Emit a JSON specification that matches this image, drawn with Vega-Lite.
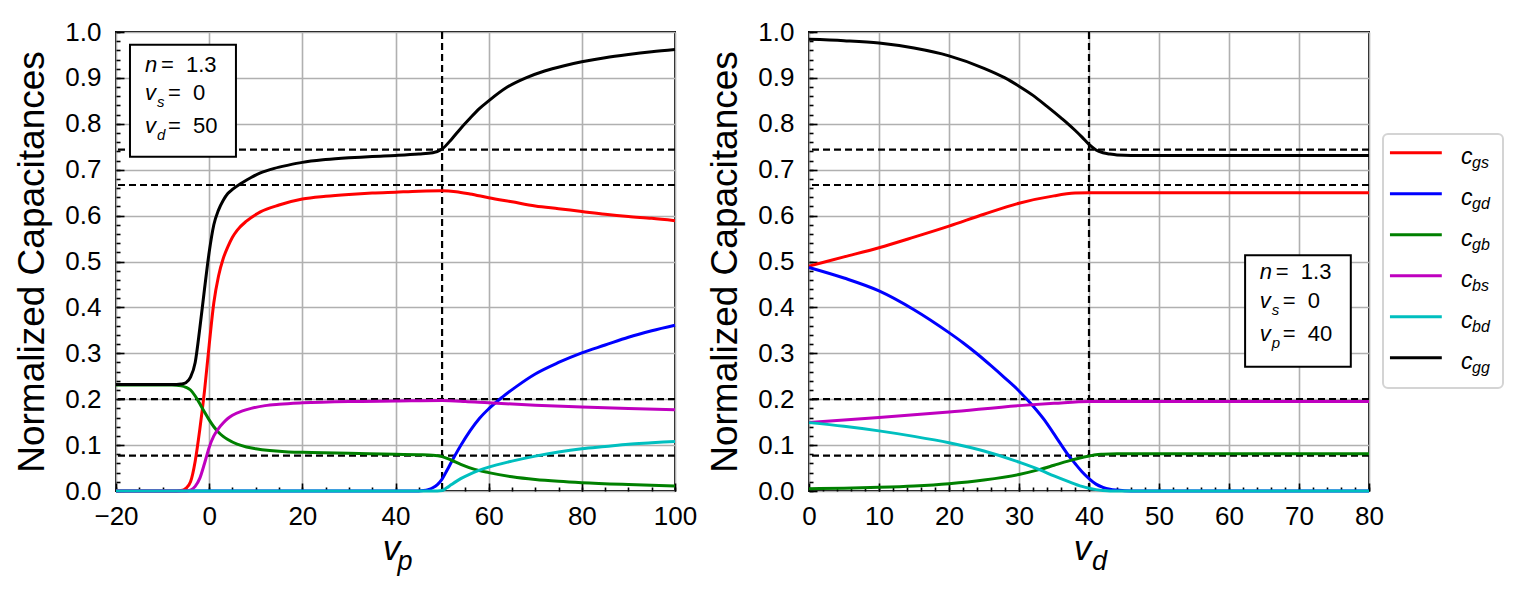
{
  "$schema": "https://vega.github.io/schema/vega-lite/v6.json",
  "padding": {"left": 12, "top": 18, "right": 5, "bottom": 5},
  "config": {
    "font": "Liberation Sans",
    "view": {"stroke": "black", "strokeWidth": 2},
    "axis": {
      "labelFont": "Liberation Sans",
      "titleFont": "Liberation Sans",
      "labelFontSize": 26,
      "labelColor": "black",
      "titleColor": "black",
      "titleFontWeight": "normal",
      "tickColor": "black",
      "tickWidth": 1.6,
      "gridColor": "#b0b0b0",
      "gridWidth": 1.6,
      "gridOpacity": 1,
      "domain": false,
      "labelFlush": false,
      "labelOverlap": false
    },
    "text": {"color": "black"}
  },
  "datasets": {
    "curves": [
      {"p":"L","s":"gs","v":-20,"c":0},{"p":"L","s":"gs","v":-7,"c":0},{"p":"L","s":"gs","v":-6,"c":0.001},{"p":"L","s":"gs","v":-5,"c":0.006},{"p":"L","s":"gs","v":-4,"c":0.02},{"p":"L","s":"gs","v":-3,"c":0.065},{"p":"L","s":"gs","v":-2,"c":0.135},{"p":"L","s":"gs","v":-1,"c":0.218},{"p":"L","s":"gs","v":0,"c":0.318},{"p":"L","s":"gs","v":1,"c":0.41},{"p":"L","s":"gs","v":2,"c":0.468},{"p":"L","s":"gs","v":3,"c":0.506},{"p":"L","s":"gs","v":4,"c":0.532},{"p":"L","s":"gs","v":5,"c":0.553},{"p":"L","s":"gs","v":6,"c":0.568},{"p":"L","s":"gs","v":8,"c":0.588},{"p":"L","s":"gs","v":11,"c":0.608},{"p":"L","s":"gs","v":15,"c":0.623},{"p":"L","s":"gs","v":20,"c":0.636},{"p":"L","s":"gs","v":25,"c":0.642},{"p":"L","s":"gs","v":30,"c":0.646},{"p":"L","s":"gs","v":35,"c":0.649},{"p":"L","s":"gs","v":40,"c":0.651},{"p":"L","s":"gs","v":45,"c":0.653},{"p":"L","s":"gs","v":50,"c":0.654},{"p":"L","s":"gs","v":53,"c":0.652},{"p":"L","s":"gs","v":56,"c":0.647},{"p":"L","s":"gs","v":60,"c":0.639},{"p":"L","s":"gs","v":65,"c":0.63},{"p":"L","s":"gs","v":70,"c":0.621},{"p":"L","s":"gs","v":75,"c":0.615},{"p":"L","s":"gs","v":80,"c":0.609},{"p":"L","s":"gs","v":85,"c":0.603},{"p":"L","s":"gs","v":90,"c":0.598},{"p":"L","s":"gs","v":95,"c":0.594},{"p":"L","s":"gs","v":100,"c":0.589},
      {"p":"L","s":"gd","v":-20,"c":0},{"p":"L","s":"gd","v":45,"c":0},{"p":"L","s":"gd","v":46,"c":0.001},{"p":"L","s":"gd","v":47,"c":0.003},{"p":"L","s":"gd","v":48,"c":0.007},{"p":"L","s":"gd","v":49,"c":0.014},{"p":"L","s":"gd","v":50,"c":0.026},{"p":"L","s":"gd","v":51,"c":0.044},{"p":"L","s":"gd","v":52,"c":0.063},{"p":"L","s":"gd","v":54,"c":0.099},{"p":"L","s":"gd","v":56,"c":0.131},{"p":"L","s":"gd","v":58,"c":0.158},{"p":"L","s":"gd","v":60,"c":0.179},{"p":"L","s":"gd","v":63,"c":0.205},{"p":"L","s":"gd","v":66,"c":0.228},{"p":"L","s":"gd","v":70,"c":0.255},{"p":"L","s":"gd","v":75,"c":0.28},{"p":"L","s":"gd","v":80,"c":0.301},{"p":"L","s":"gd","v":85,"c":0.318},{"p":"L","s":"gd","v":90,"c":0.335},{"p":"L","s":"gd","v":95,"c":0.349},{"p":"L","s":"gd","v":100,"c":0.361},
      {"p":"L","s":"gb","v":-20,"c":0.231},{"p":"L","s":"gb","v":-8,"c":0.231},{"p":"L","s":"gb","v":-6,"c":0.229},{"p":"L","s":"gb","v":-5,"c":0.226},{"p":"L","s":"gb","v":-4,"c":0.22},{"p":"L","s":"gb","v":-3,"c":0.207},{"p":"L","s":"gb","v":-2,"c":0.19},{"p":"L","s":"gb","v":-1,"c":0.172},{"p":"L","s":"gb","v":0,"c":0.155},{"p":"L","s":"gb","v":1,"c":0.14},{"p":"L","s":"gb","v":2,"c":0.128},{"p":"L","s":"gb","v":3,"c":0.119},{"p":"L","s":"gb","v":4,"c":0.112},{"p":"L","s":"gb","v":6,"c":0.102},{"p":"L","s":"gb","v":8,"c":0.096},{"p":"L","s":"gb","v":10,"c":0.092},{"p":"L","s":"gb","v":13,"c":0.088},{"p":"L","s":"gb","v":17,"c":0.085},{"p":"L","s":"gb","v":22,"c":0.084},{"p":"L","s":"gb","v":30,"c":0.082},{"p":"L","s":"gb","v":40,"c":0.08},{"p":"L","s":"gb","v":45,"c":0.079},{"p":"L","s":"gb","v":48,"c":0.078},{"p":"L","s":"gb","v":50,"c":0.075},{"p":"L","s":"gb","v":52,"c":0.067},{"p":"L","s":"gb","v":54,"c":0.058},{"p":"L","s":"gb","v":57,"c":0.047},{"p":"L","s":"gb","v":60,"c":0.04},{"p":"L","s":"gb","v":65,"c":0.031},{"p":"L","s":"gb","v":70,"c":0.025},{"p":"L","s":"gb","v":75,"c":0.021},{"p":"L","s":"gb","v":80,"c":0.018},{"p":"L","s":"gb","v":90,"c":0.014},{"p":"L","s":"gb","v":100,"c":0.011},
      {"p":"L","s":"bs","v":-20,"c":0},{"p":"L","s":"bs","v":-5,"c":0},{"p":"L","s":"bs","v":-4,"c":0.002},{"p":"L","s":"bs","v":-3,"c":0.01},{"p":"L","s":"bs","v":-2,"c":0.028},{"p":"L","s":"bs","v":-1,"c":0.06},{"p":"L","s":"bs","v":0,"c":0.095},{"p":"L","s":"bs","v":1,"c":0.12},{"p":"L","s":"bs","v":2,"c":0.136},{"p":"L","s":"bs","v":3,"c":0.148},{"p":"L","s":"bs","v":4,"c":0.158},{"p":"L","s":"bs","v":5,"c":0.165},{"p":"L","s":"bs","v":7,"c":0.174},{"p":"L","s":"bs","v":9,"c":0.18},{"p":"L","s":"bs","v":12,"c":0.186},{"p":"L","s":"bs","v":15,"c":0.189},{"p":"L","s":"bs","v":20,"c":0.192},{"p":"L","s":"bs","v":30,"c":0.195},{"p":"L","s":"bs","v":40,"c":0.196},{"p":"L","s":"bs","v":50,"c":0.197},{"p":"L","s":"bs","v":55,"c":0.195},{"p":"L","s":"bs","v":60,"c":0.192},{"p":"L","s":"bs","v":70,"c":0.187},{"p":"L","s":"bs","v":80,"c":0.183},{"p":"L","s":"bs","v":90,"c":0.18},{"p":"L","s":"bs","v":100,"c":0.177},
      {"p":"L","s":"bd","v":-20,"c":0},{"p":"L","s":"bd","v":49,"c":0},{"p":"L","s":"bd","v":50,"c":0.001},{"p":"L","s":"bd","v":51,"c":0.007},{"p":"L","s":"bd","v":52,"c":0.014},{"p":"L","s":"bd","v":54,"c":0.027},{"p":"L","s":"bd","v":56,"c":0.037},{"p":"L","s":"bd","v":60,"c":0.052},{"p":"L","s":"bd","v":65,"c":0.065},{"p":"L","s":"bd","v":70,"c":0.076},{"p":"L","s":"bd","v":75,"c":0.085},{"p":"L","s":"bd","v":80,"c":0.092},{"p":"L","s":"bd","v":85,"c":0.097},{"p":"L","s":"bd","v":90,"c":0.102},{"p":"L","s":"bd","v":95,"c":0.105},{"p":"L","s":"bd","v":100,"c":0.108},
      {"p":"L","s":"gg","v":-20,"c":0.232},{"p":"L","s":"gg","v":-7,"c":0.232},{"p":"L","s":"gg","v":-6,"c":0.233},{"p":"L","s":"gg","v":-5,"c":0.236},{"p":"L","s":"gg","v":-4,"c":0.248},{"p":"L","s":"gg","v":-3,"c":0.28},{"p":"L","s":"gg","v":-2,"c":0.355},{"p":"L","s":"gg","v":-1,"c":0.44},{"p":"L","s":"gg","v":0,"c":0.52},{"p":"L","s":"gg","v":1,"c":0.58},{"p":"L","s":"gg","v":2,"c":0.612},{"p":"L","s":"gg","v":3,"c":0.633},{"p":"L","s":"gg","v":4,"c":0.648},{"p":"L","s":"gg","v":5,"c":0.657},{"p":"L","s":"gg","v":7,"c":0.671},{"p":"L","s":"gg","v":9,"c":0.683},{"p":"L","s":"gg","v":11,"c":0.693},{"p":"L","s":"gg","v":14,"c":0.703},{"p":"L","s":"gg","v":17,"c":0.71},{"p":"L","s":"gg","v":20,"c":0.716},{"p":"L","s":"gg","v":25,"c":0.722},{"p":"L","s":"gg","v":30,"c":0.726},{"p":"L","s":"gg","v":35,"c":0.729},{"p":"L","s":"gg","v":40,"c":0.731},{"p":"L","s":"gg","v":45,"c":0.734},{"p":"L","s":"gg","v":48,"c":0.737},{"p":"L","s":"gg","v":50,"c":0.745},{"p":"L","s":"gg","v":52,"c":0.766},{"p":"L","s":"gg","v":54,"c":0.79},{"p":"L","s":"gg","v":56,"c":0.812},{"p":"L","s":"gg","v":58,"c":0.833},{"p":"L","s":"gg","v":60,"c":0.85},{"p":"L","s":"gg","v":64,"c":0.88},{"p":"L","s":"gg","v":68,"c":0.9},{"p":"L","s":"gg","v":72,"c":0.915},{"p":"L","s":"gg","v":76,"c":0.926},{"p":"L","s":"gg","v":80,"c":0.935},{"p":"L","s":"gg","v":85,"c":0.944},{"p":"L","s":"gg","v":90,"c":0.951},{"p":"L","s":"gg","v":95,"c":0.957},{"p":"L","s":"gg","v":100,"c":0.962},
      {"p":"R","s":"gs","v":0,"c":0.49},{"p":"R","s":"gs","v":5,"c":0.51},{"p":"R","s":"gs","v":10,"c":0.53},{"p":"R","s":"gs","v":15,"c":0.553},{"p":"R","s":"gs","v":20,"c":0.577},{"p":"R","s":"gs","v":25,"c":0.603},{"p":"R","s":"gs","v":30,"c":0.627},{"p":"R","s":"gs","v":35,"c":0.643},{"p":"R","s":"gs","v":38,"c":0.649},{"p":"R","s":"gs","v":40,"c":0.65},{"p":"R","s":"gs","v":45,"c":0.65},{"p":"R","s":"gs","v":80,"c":0.65},
      {"p":"R","s":"gd","v":0,"c":0.487},{"p":"R","s":"gd","v":5,"c":0.464},{"p":"R","s":"gd","v":10,"c":0.436},{"p":"R","s":"gd","v":15,"c":0.395},{"p":"R","s":"gd","v":20,"c":0.345},{"p":"R","s":"gd","v":22,"c":0.323},{"p":"R","s":"gd","v":24,"c":0.299},{"p":"R","s":"gd","v":26,"c":0.273},{"p":"R","s":"gd","v":28,"c":0.246},{"p":"R","s":"gd","v":30,"c":0.218},{"p":"R","s":"gd","v":32,"c":0.185},{"p":"R","s":"gd","v":34,"c":0.147},{"p":"R","s":"gd","v":35.7,"c":0.108},{"p":"R","s":"gd","v":37,"c":0.079},{"p":"R","s":"gd","v":38,"c":0.06},{"p":"R","s":"gd","v":39,"c":0.042},{"p":"R","s":"gd","v":40,"c":0.027},{"p":"R","s":"gd","v":41,"c":0.015},{"p":"R","s":"gd","v":42,"c":0.008},{"p":"R","s":"gd","v":43,"c":0.004},{"p":"R","s":"gd","v":44,"c":0.002},{"p":"R","s":"gd","v":46,"c":0},{"p":"R","s":"gd","v":80,"c":0},
      {"p":"R","s":"gb","v":0,"c":0.005},{"p":"R","s":"gb","v":5,"c":0.006},{"p":"R","s":"gb","v":10,"c":0.008},{"p":"R","s":"gb","v":15,"c":0.011},{"p":"R","s":"gb","v":20,"c":0.016},{"p":"R","s":"gb","v":25,"c":0.024},{"p":"R","s":"gb","v":30,"c":0.036},{"p":"R","s":"gb","v":33,"c":0.047},{"p":"R","s":"gb","v":35,"c":0.056},{"p":"R","s":"gb","v":37,"c":0.065},{"p":"R","s":"gb","v":39,"c":0.073},{"p":"R","s":"gb","v":40,"c":0.076},{"p":"R","s":"gb","v":41,"c":0.079},{"p":"R","s":"gb","v":42,"c":0.08},{"p":"R","s":"gb","v":44,"c":0.081},{"p":"R","s":"gb","v":80,"c":0.081},
      {"p":"R","s":"bs","v":0,"c":0.149},{"p":"R","s":"bs","v":10,"c":0.16},{"p":"R","s":"bs","v":20,"c":0.172},{"p":"R","s":"bs","v":30,"c":0.186},{"p":"R","s":"bs","v":35,"c":0.191},{"p":"R","s":"bs","v":40,"c":0.195},{"p":"R","s":"bs","v":80,"c":0.195},
      {"p":"R","s":"bd","v":0,"c":0.149},{"p":"R","s":"bd","v":5,"c":0.141},{"p":"R","s":"bd","v":10,"c":0.131},{"p":"R","s":"bd","v":15,"c":0.119},{"p":"R","s":"bd","v":20,"c":0.105},{"p":"R","s":"bd","v":25,"c":0.087},{"p":"R","s":"bd","v":30,"c":0.063},{"p":"R","s":"bd","v":33,"c":0.046},{"p":"R","s":"bd","v":35,"c":0.033},{"p":"R","s":"bd","v":37,"c":0.021},{"p":"R","s":"bd","v":39,"c":0.01},{"p":"R","s":"bd","v":40,"c":0.006},{"p":"R","s":"bd","v":41,"c":0.003},{"p":"R","s":"bd","v":42,"c":0.001},{"p":"R","s":"bd","v":43,"c":0},{"p":"R","s":"bd","v":80,"c":0},
      {"p":"R","s":"gg","v":0,"c":0.984},{"p":"R","s":"gg","v":5,"c":0.981},{"p":"R","s":"gg","v":10,"c":0.976},{"p":"R","s":"gg","v":15,"c":0.965},{"p":"R","s":"gg","v":20,"c":0.948},{"p":"R","s":"gg","v":25,"c":0.921},{"p":"R","s":"gg","v":28,"c":0.9},{"p":"R","s":"gg","v":30,"c":0.882},{"p":"R","s":"gg","v":32,"c":0.862},{"p":"R","s":"gg","v":34,"c":0.838},{"p":"R","s":"gg","v":36,"c":0.813},{"p":"R","s":"gg","v":37,"c":0.8},{"p":"R","s":"gg","v":38,"c":0.786},{"p":"R","s":"gg","v":39,"c":0.771},{"p":"R","s":"gg","v":40,"c":0.755},{"p":"R","s":"gg","v":41,"c":0.743},{"p":"R","s":"gg","v":42,"c":0.737},{"p":"R","s":"gg","v":43,"c":0.734},{"p":"R","s":"gg","v":44,"c":0.732},{"p":"R","s":"gg","v":46,"c":0.731},{"p":"R","s":"gg","v":80,"c":0.731}
    ],
    "hrefs": [
      {"p":"L","y":0.7436},{"p":"L","y":0.6667},{"p":"L","y":0.2},{"p":"L","y":0.0769},
      {"p":"R","y":0.7436},{"p":"R","y":0.6667},{"p":"R","y":0.2},{"p":"R","y":0.0769}
    ],
    "vrefs": [{"p":"L","x":50},{"p":"R","x":40}],
    "boxes": [
      {"p":"L","x":-17,"x2":5.75,"y":0.972,"y2":0.728},
      {"p":"R","x":62.3,"x2":77.4,"y":0.5135,"y2":0.2708}
    ],
    "notes": [
      {"p":"L","main":"n","sub":"","rest":"=\u00a0 1.3","x":-13.8,"y":0.9135},
      {"p":"L","main":"v","sub":"s","rest":"=\u00a0 0","x":-13.8,"y":0.8519},
      {"p":"L","main":"v","sub":"d","rest":"=\u00a0 50","x":-13.8,"y":0.7806},
      {"p":"R","main":"n","sub":"","rest":"=\u00a0 1.3","x":64.4,"y":0.4612},
      {"p":"R","main":"v","sub":"s","rest":"=\u00a0 0","x":64.4,"y":0.3993},
      {"p":"R","main":"v","sub":"p","rest":"=\u00a0 40","x":64.4,"y":0.3268}
    ],
    "legend": [
      {"s":"gs","rank":0},{"s":"gd","rank":1},{"s":"gb","rank":2},
      {"s":"bs","rank":3},{"s":"bd","rank":4},{"s":"gg","rank":5}
    ]
  },
  "bounds": "flush",
  "spacing": 134,
  "hconcat": [
    {
      "width": 559,
      "height": 459,
      "resolve": {"axis": {"x": "independent", "y": "independent"}},
      "layer": [
        {
          "data": {"name": "hrefs"},
          "transform": [{"filter": "datum.p === 'L'"}],
          "mark": {"type": "rule", "color": "black", "strokeWidth": 2.2, "strokeDash": [7, 4]},
          "encoding": {
            "y": {"field": "y", "type": "quantitative", "scale": {"domain": [0, 1], "nice": false, "zero": false},
              "axis": {"orient": "left", "values": [0,0.02,0.04,0.06,0.08,0.1,0.12,0.14,0.16,0.18,0.2,0.22,0.24,0.26,0.28,0.3,0.32,0.34,0.36,0.38,0.4,0.42,0.44,0.46,0.48,0.5,0.52,0.54,0.56,0.58,0.6,0.62,0.64,0.66,0.68,0.7,0.72,0.74,0.76,0.78,0.8,0.82,0.84,0.86,0.88,0.9,0.92,0.94,0.96,0.98,1],
                "labels": false, "grid": false, "tickSize": -4, "title": null}}
          }
        },
        {
          "data": {"name": "vrefs"},
          "transform": [{"filter": "datum.p === 'L'"}],
          "mark": {"type": "rule", "color": "black", "strokeWidth": 2.2, "strokeDash": [7, 4]},
          "encoding": {
            "x": {"field": "x", "type": "quantitative", "scale": {"domain": [-20, 100], "nice": false, "zero": false},
              "axis": {"orient": "bottom", "values": [-20,-15,-10,-5,0,5,10,15,20,25,30,35,40,45,50,55,60,65,70,75,80,85,90,95,100],
                "labels": false, "grid": false, "tickSize": -4,
                "title": "p", "titleFontSize": 27, "titleFontStyle": "italic", "titleX": 288.5, "titleY": 78, "titleAlign": "center", "titleBaseline": "alphabetic"}}
          }
        },
        {
          "data": {"name": "curves"},
          "transform": [{"filter": "datum.p === 'L'"}],
          "mark": {"type": "line", "strokeWidth": 3, "interpolate": "monotone"},
          "encoding": {
            "x": {"field": "v", "type": "quantitative", "scale": {"domain": [-20, 100], "nice": false, "zero": false},
              "axis": {"orient": "bottom", "values": [-20, 0, 20, 40, 60, 80, 100], "tickSize": -8, "labelPadding": 20, "grid": true,
                "title": "v", "titleFontSize": 35, "titleFontStyle": "italic", "titleX": 275, "titleY": 68, "titleAlign": "center", "titleBaseline": "alphabetic"}},
            "y": {"field": "c", "type": "quantitative", "scale": {"domain": [0, 1], "nice": false, "zero": false},
              "axis": {"orient": "left", "values": [0,0.1,0.2,0.3,0.4,0.5,0.6,0.7,0.8,0.9,1], "format": ".1f", "tickSize": -8, "labelPadding": 23, "grid": true,
                "title": "Normalized Capacitances", "titleFontSize": 37, "titlePadding": 13}},
            "color": {"field": "s", "type": "nominal", "legend": null,
              "scale": {"domain": ["gs", "gd", "gb", "bs", "bd", "gg"], "range": ["#ff0000", "#0000ff", "#008000", "#bf00bf", "#00bfbf", "#000000"]}}
          }
        },
        {
          "data": {"name": "boxes"},
          "transform": [{"filter": "datum.p === 'L'"}],
          "mark": {"type": "rect", "fill": "white", "stroke": "black", "strokeWidth": 2},
          "encoding": {
            "x": {"field": "x", "type": "quantitative", "axis": null},
            "x2": {"field": "x2"},
            "y": {"field": "y", "type": "quantitative", "axis": null},
            "y2": {"field": "y2"}
          }
        },
        {
          "data": {"name": "notes"},
          "transform": [{"filter": "datum.p === 'L'"}],
          "mark": {"type": "text", "align": "left", "baseline": "alphabetic", "fontSize": 22, "fontStyle": "italic"},
          "encoding": {
            "x": {"field": "x", "type": "quantitative", "axis": null},
            "y": {"field": "y", "type": "quantitative", "axis": null},
            "text": {"field": "main"}
          }
        },
        {
          "data": {"name": "notes"},
          "transform": [{"filter": "datum.p === 'L' && datum.sub !== ''"}],
          "mark": {"type": "text", "align": "left", "baseline": "alphabetic", "fontSize": 15, "fontStyle": "italic", "dx": 12, "dy": 7},
          "encoding": {
            "x": {"field": "x", "type": "quantitative", "axis": null},
            "y": {"field": "y", "type": "quantitative", "axis": null},
            "text": {"field": "sub"}
          }
        },
        {
          "data": {"name": "notes"},
          "transform": [{"filter": "datum.p === 'L' && datum.sub === ''"}],
          "mark": {"type": "text", "align": "left", "baseline": "alphabetic", "fontSize": 22, "dx": 16},
          "encoding": {
            "x": {"field": "x", "type": "quantitative", "axis": null},
            "y": {"field": "y", "type": "quantitative", "axis": null},
            "text": {"field": "rest"}
          }
        },
        {
          "data": {"name": "notes"},
          "transform": [{"filter": "datum.p === 'L' && datum.sub !== ''"}],
          "mark": {"type": "text", "align": "left", "baseline": "alphabetic", "fontSize": 22, "dx": 23},
          "encoding": {
            "x": {"field": "x", "type": "quantitative", "axis": null},
            "y": {"field": "y", "type": "quantitative", "axis": null},
            "text": {"field": "rest"}
          }
        }
      ]
    },
    {
      "bounds": "flush",
      "spacing": 14,
      "hconcat": [
        {
          "width": 560,
          "height": 459,
          "resolve": {"axis": {"x": "independent", "y": "independent"}},
          "layer": [
            {
              "data": {"name": "hrefs"},
              "transform": [{"filter": "datum.p === 'R'"}],
              "mark": {"type": "rule", "color": "black", "strokeWidth": 2.2, "strokeDash": [7, 4]},
              "encoding": {
                "y": {"field": "y", "type": "quantitative", "scale": {"domain": [0, 1], "nice": false, "zero": false},
                  "axis": {"orient": "left", "values": [0,0.02,0.04,0.06,0.08,0.1,0.12,0.14,0.16,0.18,0.2,0.22,0.24,0.26,0.28,0.3,0.32,0.34,0.36,0.38,0.4,0.42,0.44,0.46,0.48,0.5,0.52,0.54,0.56,0.58,0.6,0.62,0.64,0.66,0.68,0.7,0.72,0.74,0.76,0.78,0.8,0.82,0.84,0.86,0.88,0.9,0.92,0.94,0.96,0.98,1],
                    "labels": false, "grid": false, "tickSize": -4, "title": null}}
              }
            },
            {
              "data": {"name": "vrefs"},
              "transform": [{"filter": "datum.p === 'R'"}],
              "mark": {"type": "rule", "color": "black", "strokeWidth": 2.2, "strokeDash": [7, 4]},
              "encoding": {
                "x": {"field": "x", "type": "quantitative", "scale": {"domain": [0, 80], "nice": false, "zero": false},
                  "axis": {"orient": "bottom", "values": [0,2,4,6,8,10,12,14,16,18,20,22,24,26,28,30,32,34,36,38,40,42,44,46,48,50,52,54,56,58,60,62,64,66,68,70,72,74,76,78,80],
                    "labels": false, "grid": false, "tickSize": -4,
                    "title": "d", "titleFontSize": 27, "titleFontStyle": "italic", "titleX": 290, "titleY": 78, "titleAlign": "center", "titleBaseline": "alphabetic"}}
              }
            },
            {
              "data": {"name": "curves"},
              "transform": [{"filter": "datum.p === 'R'"}],
              "mark": {"type": "line", "strokeWidth": 3, "interpolate": "monotone"},
              "encoding": {
                "x": {"field": "v", "type": "quantitative", "scale": {"domain": [0, 80], "nice": false, "zero": false},
                  "axis": {"orient": "bottom", "values": [0, 10, 20, 30, 40, 50, 60, 70, 80], "tickSize": -8, "labelPadding": 20, "grid": true,
                    "title": "v", "titleFontSize": 35, "titleFontStyle": "italic", "titleX": 273, "titleY": 68, "titleAlign": "center", "titleBaseline": "alphabetic"}},
                "y": {"field": "c", "type": "quantitative", "scale": {"domain": [0, 1], "nice": false, "zero": false},
                  "axis": {"orient": "left", "values": [0,0.1,0.2,0.3,0.4,0.5,0.6,0.7,0.8,0.9,1], "format": ".1f", "tickSize": -8, "labelPadding": 23, "grid": true,
                    "title": "Normalized Capacitances", "titleFontSize": 37, "titlePadding": 13}},
                "color": {"field": "s", "type": "nominal", "legend": null,
                  "scale": {"domain": ["gs", "gd", "gb", "bs", "bd", "gg"], "range": ["#ff0000", "#0000ff", "#008000", "#bf00bf", "#00bfbf", "#000000"]}}
              }
            },
            {
              "data": {"name": "boxes"},
              "transform": [{"filter": "datum.p === 'R'"}],
              "mark": {"type": "rect", "fill": "white", "stroke": "black", "strokeWidth": 2},
              "encoding": {
                "x": {"field": "x", "type": "quantitative", "axis": null},
                "x2": {"field": "x2"},
                "y": {"field": "y", "type": "quantitative", "axis": null},
                "y2": {"field": "y2"}
              }
            },
            {
              "data": {"name": "notes"},
              "transform": [{"filter": "datum.p === 'R'"}],
              "mark": {"type": "text", "align": "left", "baseline": "alphabetic", "fontSize": 22, "fontStyle": "italic"},
              "encoding": {
                "x": {"field": "x", "type": "quantitative", "axis": null},
                "y": {"field": "y", "type": "quantitative", "axis": null},
                "text": {"field": "main"}
              }
            },
            {
              "data": {"name": "notes"},
              "transform": [{"filter": "datum.p === 'R' && datum.sub !== ''"}],
              "mark": {"type": "text", "align": "left", "baseline": "alphabetic", "fontSize": 15, "fontStyle": "italic", "dx": 12, "dy": 7},
              "encoding": {
                "x": {"field": "x", "type": "quantitative", "axis": null},
                "y": {"field": "y", "type": "quantitative", "axis": null},
                "text": {"field": "sub"}
              }
            },
            {
              "data": {"name": "notes"},
              "transform": [{"filter": "datum.p === 'R' && datum.sub === ''"}],
              "mark": {"type": "text", "align": "left", "baseline": "alphabetic", "fontSize": 22, "dx": 16},
              "encoding": {
                "x": {"field": "x", "type": "quantitative", "axis": null},
                "y": {"field": "y", "type": "quantitative", "axis": null},
                "text": {"field": "rest"}
              }
            },
            {
              "data": {"name": "notes"},
              "transform": [{"filter": "datum.p === 'R' && datum.sub !== ''"}],
              "mark": {"type": "text", "align": "left", "baseline": "alphabetic", "fontSize": 22, "dx": 23},
              "encoding": {
                "x": {"field": "x", "type": "quantitative", "axis": null},
                "y": {"field": "y", "type": "quantitative", "axis": null},
                "text": {"field": "rest"}
              }
            }
          ]
        },
        {
          "width": 120,
          "height": 459,
          "view": {"stroke": null},
          "layer": [
            {
              "data": {"values": [{"box": 1}]},
              "mark": {"type": "rect", "fill": "white", "stroke": "#d4d4d4", "strokeWidth": 2, "cornerRadius": 5},
              "encoding": {
                "x": {"datum": 0, "type": "quantitative", "scale": {"domain": [0, 1], "nice": false, "zero": false}, "axis": null},
                "x2": {"datum": 1},
                "y": {"datum": -0.456, "type": "quantitative", "scale": {"domain": [-2.944, 8.251], "reverse": true, "nice": false, "zero": false}, "axis": null},
                "y2": {"datum": 5.739}
              }
            },
            {
              "data": {"name": "legend"},
              "mark": {"type": "rule", "strokeWidth": 3},
              "encoding": {
                "x": {"datum": 0.058, "type": "quantitative", "axis": null},
                "x2": {"datum": 0.49},
                "y": {"field": "rank", "type": "quantitative", "axis": null},
                "color": {"field": "s", "type": "nominal", "legend": null,
                  "scale": {"domain": ["gs", "gd", "gb", "bs", "bd", "gg"], "range": ["#ff0000", "#0000ff", "#008000", "#bf00bf", "#00bfbf", "#000000"]}}
              }
            },
            {
              "data": {"name": "legend"},
              "mark": {"type": "text", "text": "c", "align": "left", "baseline": "alphabetic", "fontSize": 23, "fontStyle": "italic", "dy": 11},
              "encoding": {
                "x": {"datum": 0.65, "type": "quantitative", "axis": null},
                "y": {"field": "rank", "type": "quantitative", "axis": null}
              }
            },
            {
              "data": {"name": "legend"},
              "mark": {"type": "text", "align": "left", "baseline": "alphabetic", "fontSize": 16, "fontStyle": "italic", "dx": 11, "dy": 15},
              "encoding": {
                "x": {"datum": 0.65, "type": "quantitative", "axis": null},
                "y": {"field": "rank", "type": "quantitative", "axis": null},
                "text": {"field": "s"}
              }
            }
          ]
        }
      ]
    }
  ]
}
